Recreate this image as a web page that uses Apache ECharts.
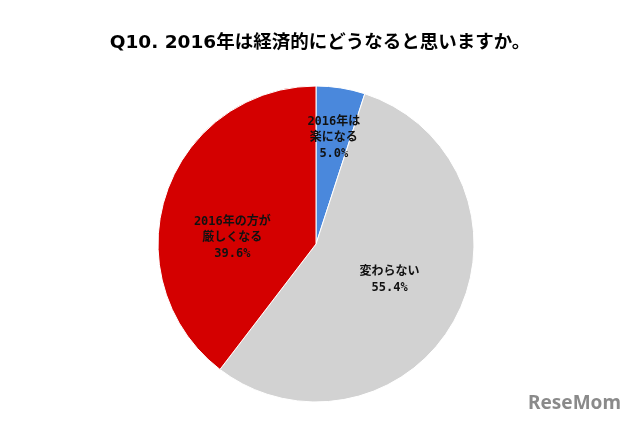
<!DOCTYPE html>
<html><head><meta charset="utf-8">
<script src="https://cdn.jsdelivr.net/npm/echarts@6/dist/echarts.min.js"></script>
<style>html,body{margin:0;padding:0;background:#fff}#c{width:640px;height:426px}</style>
</head><body><div id="c"></div>
<script>
const categories = ['2016年は\n楽になる', '変わらない', '2016年の方が\n厳しくなる'];
const values = [5.0, 55.4, 39.6];
const colors = ['#4a88dc', '#d2d2d2', '#d40000'];
const labelShift = [[5, -25], [1, -2], [-6, 20]];

const chart = echarts.init(document.getElementById('c'));
chart.setOption({
  animation: false,
  title: {
    text: 'Q10. 2016年は経済的にどうなると思いますか。',
    left: 'center', top: 29,
    textStyle: { fontFamily: '"DejaVu Sans", "Noto Sans CJK JP"', fontWeight: 'bold', fontSize: 18.5, color: '#000' }
  },
  graphic: [{
    type: 'text', left: 528, top: 394,
    style: { text: 'ReseMom', fill: '#8a8a8a', font: 'bold 19px "Noto Sans", sans-serif' }
  }],
  series: [{
    type: 'pie',
    center: [316, 244], radius: 158,
    startAngle: 90, clockwise: true,
    itemStyle: { borderColor: '#fff', borderWidth: 1 },
    label: {
      position: 'inside',
      formatter: p => p.name + '\n' + p.value.toFixed(1) + '%',
      fontFamily: '"DejaVu Sans Mono", "Noto Sans CJK JP"', fontWeight: 'bold', fontSize: 12, lineHeight: 16, color: '#111'
    },
    labelLayout: p => ({ dx: labelShift[p.dataIndex][0], dy: labelShift[p.dataIndex][1] }),
    labelLine: { show: false },
    emphasis: { disabled: true },
    data: categories.map((c, i) => ({ name: c, value: values[i], itemStyle: { color: colors[i] } }))
  }]
});
</script></body></html>
